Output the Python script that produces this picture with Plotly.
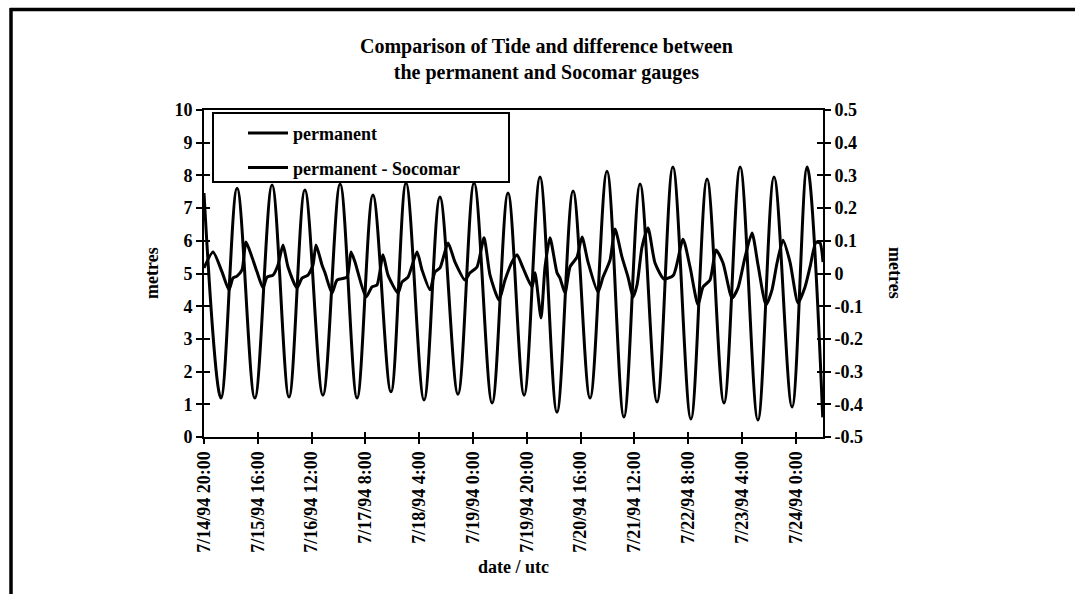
import plotly.graph_objects as go

# Hours after 1994-07-14 20:00 UTC and tide height (m) at each high / low water
tide_hours = [0, 6.3, 12.3, 18.9, 25.3, 31.6, 37.5, 44.2, 50.6, 56.9, 62.8, 69.5,
              75.1, 81.8, 87.7, 94.4, 100.4, 107.1, 113.0, 119.0, 124.9, 131.2,
              137.2, 143.5, 149.8, 156.1, 162.1, 168.4, 174.3, 181.0, 187.0, 193.3,
              199.3, 205.9, 211.9, 218.6, 224.2, 230.0]
tide_m = [7.46, 1.19, 7.61, 1.19, 7.71, 1.22, 7.55, 1.28, 7.74, 1.19, 7.40, 1.38,
          7.77, 1.13, 7.34, 1.31, 7.77, 1.04, 7.46, 1.28, 7.95, 0.76,
          7.52, 1.19, 8.13, 0.61, 7.74, 1.07, 8.26, 0.55, 7.89, 1.04,
          8.26, 0.52, 7.95, 0.92, 8.26, 0.60]

# Difference permanent - Socomar (m), same time origin
diff_hours = [0, 3.35, 6.69, 9.29, 10.78, 12.27, 14.13, 15.61, 17.84, 19.70, 21.93,
              23.42, 25.65, 27.51, 29.37, 31.23, 34.57, 36.43, 38.66, 40.52, 41.64,
              43.87, 44.98, 47.58, 49.44, 53.16, 54.65, 56.13, 60.22, 62.45, 64.31,
              66.54, 68.40, 72.12, 73.61, 75.84, 79.18, 81.04, 84.01, 85.87, 87.73,
              90.71, 93.31, 97.03, 98.88, 101.49, 104.09, 106.32, 109.67, 111.90,
              114.50, 116.36, 118.59, 121.93, 123.05, 125.28, 126.77, 128.62,
              131.23, 132.34, 134.20, 136.06, 138.66, 140.52, 142.75, 146.47,
              148.33, 150.93, 152.79, 155.39, 157.62, 159.48, 160.97, 162.83,
              165.06, 167.66, 171.00, 174.5, 178.07, 180.67, 183.64, 185.50, 188.10,
              190.33, 192.94, 196.28, 198.51, 201.12, 203.72, 205.95, 208.92,
              211.15, 213.01, 215.24, 217.84, 220.82, 223.42, 225.28, 227.51,
              229.00, 230.11]
diff_m = [0.017, 0.066, 0.005, -0.050, -0.014, -0.008, 0.011, 0.096, 0.050, 0.005,
          -0.044, -0.011, -0.005, 0.026, 0.087, 0.020, -0.044, -0.014, -0.005, 0.026,
          0.087, 0.026, 0.002, -0.060, -0.020, -0.011, 0.066, 0.035, -0.072, -0.041,
          -0.035, 0.057, -0.005, -0.060, -0.026, -0.011, 0.066, 0.011, -0.050, 0.005,
          0.017, 0.093, 0.035, -0.020, 0.002, 0.020, 0.109, -0.005, -0.081, -0.020,
          0.035, 0.057, 0.017, -0.041, 0.002, -0.136, 0.020, 0.109,
          0.002, -0.014, -0.060, 0.020, 0.050, 0.112, 0.035, -0.057,
          -0.011, 0.041, 0.136, 0.050, -0.011, -0.072, -0.035, 0.081,
          0.139, 0.032, -0.017, -0.005, 0.105, 0.020, -0.096, -0.041, -0.020,
          0.072, 0.032, -0.075, -0.044, 0.050, 0.124, 0.026, -0.096,
          -0.050, 0.032, 0.102, 0.035, -0.090, -0.041, 0.020, 0.096,
          0.093, 0.035]

tick_hours = [0, 20, 40, 60, 80, 100, 120, 140, 160, 180, 200, 220]
tick_labels = ["7/14/94 20:00", "7/15/94 16:00", "7/16/94 12:00", "7/17/94 8:00",
               "7/18/94 4:00", "7/19/94 0:00", "7/19/94 20:00", "7/20/94 16:00",
               "7/21/94 12:00", "7/22/94 8:00", "7/23/94 4:00", "7/24/94 0:00"]

left_ticks = [0, 1, 2, 3, 4, 5, 6, 7, 8, 9, 10]
right_ticks = [-0.5, -0.4, -0.3, -0.2, -0.1, 0, 0.1, 0.2, 0.3, 0.4, 0.5]
right_labels = ["-0.5", "-0.4", "-0.3", "-0.2", "-0.1", "0", "0.1", "0.2", "0.3", "0.4", "0.5"]

X_END = 230.1
SERIF = "Liberation Serif, Times New Roman, serif"
BOLD = dict(family=SERIF, size=18, color="black", weight="bold")

fig = go.Figure()
fig.add_trace(go.Scatter(x=tide_hours, y=tide_m, name="permanent", mode="lines",
                         legendgroup="a",
                         line=dict(color="black", width=3, shape="spline", smoothing=1.0)))
fig.add_trace(go.Scatter(x=diff_hours, y=diff_m, name="permanent - Socomar", mode="lines",
                         yaxis="y2", legendgroup="b",
                         line=dict(color="black", width=3, shape="spline", smoothing=0.6)))

line_axis = dict(showgrid=False, zeroline=False, linecolor="black", linewidth=2,
                 tickcolor="black", tickwidth=2, tickfont=BOLD)
tick_only = dict(showticklabels=False, showgrid=False, zeroline=False, showline=False,
                 tickcolor="black", tickwidth=2)

fig.update_layout(
    width=1075, height=594,
    margin=dict(l=204, r=252, t=110, b=157),
    paper_bgcolor="white", plot_bgcolor="white",
    showlegend=True,
    xaxis=dict(range=[0, X_END], tickmode="array", tickvals=tick_hours, ticktext=tick_labels,
               tickangle=-90, ticks="outside", ticklen=5, showline=True, mirror=True,
               **line_axis),
    xaxis2=dict(range=[0, X_END], overlaying="x", anchor="y", side="bottom",
                tickmode="array", tickvals=tick_hours, ticks="inside", ticklen=5, **tick_only),
    yaxis=dict(range=[0, 10], tickmode="array", tickvals=left_ticks, ticks="outside",
               ticklen=6, showline=True, **line_axis),
    yaxis2=dict(range=[-0.5, 0.5], tickmode="array", tickvals=right_ticks,
                ticktext=right_labels, overlaying="y", side="right", ticks="outside",
                ticklen=6, showline=True, **line_axis),
    yaxis3=dict(range=[0, 10], overlaying="y", side="left", tickmode="array",
                tickvals=left_ticks, ticks="inside", ticklen=6, **tick_only),
    yaxis4=dict(range=[-0.5, 0.5], overlaying="y", side="right", tickmode="array",
                tickvals=right_ticks, ticks="inside", ticklen=6, **tick_only),
    legend=dict(x=0.063, y=0.985, xanchor="left", yanchor="top", bgcolor="rgba(0,0,0,0)",
                borderwidth=0, font=dict(family=SERIF, size=18, color="black", weight="bold"),
                itemwidth=40, traceorder="grouped", tracegroupgap=8),
)

# empty traces so the tick-only overlay axes are drawn
fig.add_trace(go.Scatter(x=[None], y=[None], xaxis="x2", yaxis="y3", showlegend=False,
                         hoverinfo="skip"))
fig.add_trace(go.Scatter(x=[None], y=[None], yaxis="y4", showlegend=False, hoverinfo="skip"))


def px_x(px):
    return (px - 204) / 619


def px_y(py):
    return (437 - py) / 327


# legend frame
fig.add_shape(type="rect", xref="paper", yref="paper",
              x0=px_x(213), x1=px_x(509), y0=px_y(182), y1=px_y(113),
              line=dict(color="black", width=2), fillcolor="rgba(0,0,0,0)")
# page frame (top and left edges)
fig.add_shape(type="line", xref="paper", yref="paper",
              x0=px_x(10), x1=px_x(1075), y0=px_y(9.5), y1=px_y(9.5),
              line=dict(color="black", width=3.5))
fig.add_shape(type="line", xref="paper", yref="paper",
              x0=px_x(11), x1=px_x(11), y0=px_y(8), y1=px_y(594),
              line=dict(color="black", width=3.5))

fig.add_annotation(text="Comparison of Tide and difference between<br>the permanent and Socomar gauges",
                   xref="paper", yref="paper", x=px_x(546), y=px_y(60), showarrow=False,
                   xanchor="center", yanchor="middle",
                   font=dict(family=SERIF, size=20, color="black", weight="bold"))
fig.add_annotation(text="metres", xref="paper", yref="paper", x=px_x(152), y=px_y(273),
                   showarrow=False, textangle=-90, xanchor="center", yanchor="middle",
                   font=dict(family=SERIF, size=18, color="black", weight="bold"))
fig.add_annotation(text="metres", xref="paper", yref="paper", x=px_x(895), y=px_y(273),
                   showarrow=False, textangle=90, xanchor="center", yanchor="middle",
                   font=dict(family=SERIF, size=18, color="black", weight="bold"))
fig.add_annotation(text="date / utc", xref="paper", yref="paper", x=px_x(513), y=px_y(567),
                   showarrow=False, xanchor="center", yanchor="middle",
                   font=dict(family=SERIF, size=18, color="black", weight="bold"))

fig.write_html("out.html")
